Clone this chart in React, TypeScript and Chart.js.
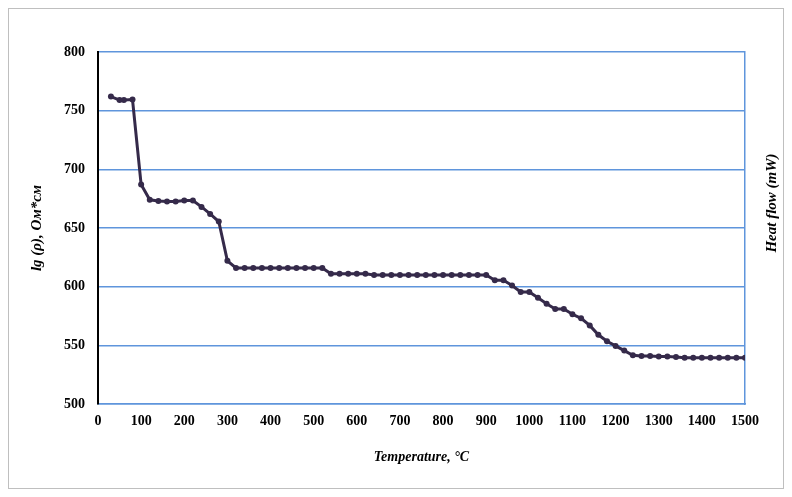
import React, { useEffect, useRef } from "react";
import { Chart, registerables } from "chart.js";

Chart.register(...registerables);

const temperatures = [
  30, 50, 60, 80, 100, 120, 140, 160, 180, 200, 220, 240, 260, 280, 300, 320, 340, 360, 380, 400,
  420, 440, 460, 480, 500, 520, 540, 560, 580, 600, 620, 640, 660, 680, 700, 720, 740, 760, 780,
  800, 820, 840, 860, 880, 900, 920, 940, 960, 980, 1000, 1020, 1040, 1060, 1080, 1100, 1120, 1140,
  1160, 1180, 1200, 1220, 1240, 1260, 1280, 1300, 1320, 1340, 1360, 1380, 1400, 1420, 1440, 1460,
  1480, 1500,
];

const resistivity = [
  762, 759, 759, 759.5, 687, 674, 673, 672.5, 672.5, 673.5, 673.5, 668, 662, 655.5, 622, 616, 616,
  616, 616, 616, 616, 616, 616, 616, 616, 616, 611, 611, 611, 611, 611, 610, 610, 610, 610, 610,
  610, 610, 610, 610, 610, 610, 610, 610, 610, 605.5, 605.5, 601, 595.5, 595.5, 590.5, 585.5, 581,
  581, 576.5, 573, 567, 559, 553.5, 549.5, 545.5, 541.5, 541, 541, 540.5, 540.5, 540, 539.5, 539.5,
  539.5, 539.5, 539.5, 539.5, 539.5, 539.5,
];

const xTitle = "Temperature, °C";
const yTitle = "lg (ρ), Ом*см";
const y2Title = "Heat flow (mW)";

const SERIF = "'Liberation Serif', 'Times New Roman', serif";
const BLUE = "#5f95dc";
const LINE = "#352a4a";

export default function App() {
  const ref = useRef<HTMLCanvasElement | null>(null);

  useEffect(() => {
    if (!ref.current) return;
    const rightTitle = {
      id: "rightTitle",
      afterDraw(chart: any) {
        const ctx = chart.ctx;
        ctx.save();
        ctx.translate(763, 194);
        ctx.rotate(-Math.PI / 2);
        ctx.font = `italic bold 15px ${SERIF}`;
        ctx.fillStyle = "#000";
        ctx.textAlign = "center";
        ctx.textBaseline = "middle";
        ctx.fillText(y2Title, 0, 0);
        ctx.restore();
      },
    };
    const chart = new Chart(ref.current, {
      type: "line",
      data: {
        datasets: [
          {
            data: temperatures.map((t, i) => ({ x: t, y: resistivity[i] })),
            borderColor: LINE,
            backgroundColor: LINE,
            borderWidth: 3,
            pointRadius: 3,
            pointBackgroundColor: LINE,
            pointBorderWidth: 0,
            tension: 0,
          },
        ],
      },
      options: {
        responsive: false,
        animation: false,
        layout: { padding: { top: 43, left: 0, right: 0, bottom: 0 } },
        plugins: { legend: { display: false }, tooltip: { enabled: false } },
        scales: {
          x: {
            type: "linear",
            min: 0,
            max: 1500,
            ticks: {
              stepSize: 100,
              color: "#000",
              padding: 9,
              font: { family: SERIF, size: 14, weight: "bold" },
              callback: (v: any) => String(v),
            },
            grid: { display: false, drawTicks: false },
            border: { display: true, color: BLUE, width: 1.5 },
            title: {
              display: true,
              text: xTitle,
              color: "#000",
              font: { family: SERIF, size: 14, weight: "bold", style: "italic" },
              padding: { top: 0, bottom: 22 },
            },
            afterFit: (s: any) => {
              s.height = 84;
            },
          },
          y: {
            type: "linear",
            position: "left",
            min: 500,
            max: 800,
            ticks: {
              stepSize: 50,
              color: "#000",
              padding: 13,
              font: { family: SERIF, size: 14, weight: "bold" },
            },
            grid: { color: BLUE, lineWidth: 1.5, drawTicks: false },
            border: { display: true, color: "#000", width: 2 },
            title: {
              display: true,
              text: yTitle,
              color: "#000",
              font: { family: SERIF, size: 15, weight: "bold", style: "italic" },
              padding: { top: 19, bottom: 0 },
            },
            afterFit: (s: any) => {
              s.width = 89;
            },
          },
          y1: {
            type: "linear",
            position: "right",
            min: 500,
            max: 800,
            ticks: { display: false },
            grid: { display: false, drawTicks: false },
            border: { display: true, color: BLUE, width: 1.5 },
            afterFit: (s: any) => {
              s.width = 38;
            },
          },
        },
      },
      plugins: [rightTitle],
    } as any);
    return () => chart.destroy();
  }, []);

  return (
    <div style={{ width: 774, height: 479, border: "1px solid #bfbfbf" }}>
      <canvas ref={ref} width={774} height={479} style={{ display: "block" }} />
    </div>
  );
}
